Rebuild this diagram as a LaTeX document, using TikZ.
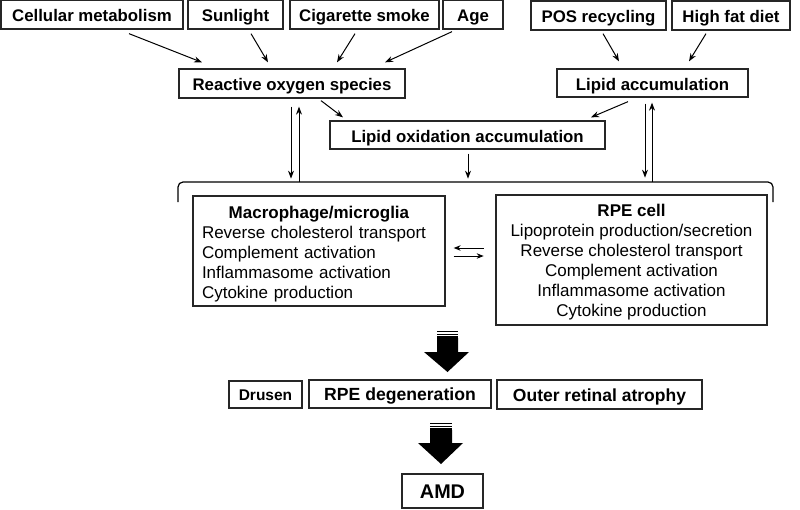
\documentclass[tikz,border=0pt]{standalone}
\usepackage{fontspec}
\setmainfont{Liberation Sans}
\usetikzlibrary{arrows.meta}
\begin{document}
\begin{tikzpicture}[x=1pt,y=-1pt,
  box/.style={draw=black!85, line width=1.3pt, inner sep=0pt, anchor=center},
  onel/.style={box, text height=#1, text depth=0pt},
  onel/.default=14pt,
  tb/.style={onel=14pt, font=\fontsize{16.8}{20}\selectfont\bfseries},
  arr/.style={-{Stealth[length=8pt,width=6pt]}, line width=1pt},
  eqarr/.style={-{Stealth[length=7pt,width=5.5pt]}, line width=1pt},
  bigarrow/.style={fill=black},
]
\useasboundingbox (0,0) rectangle (800,509);
% top boxes
\node[tb, minimum width=182pt, minimum height=29pt] (cm) at (92,14.5) {Cellular metabolism};
\node[tb, minimum width=95pt, minimum height=29pt] (sun) at (235.5,14.5) {Sunlight};
\node[tb, minimum width=149pt, minimum height=29pt] (cig) at (364.5,14.5) {Cigarette smoke};
\node[tb, minimum width=60pt, minimum height=29pt] (age) at (473,14.5) {Age};
\node[tb, minimum width=135pt, minimum height=29pt] (pos) at (598.5,15.5) {POS recycling};
\node[tb, minimum width=118pt, minimum height=29pt] (hfd) at (731,15.5) {High fat diet};
% second row
\node[tb, minimum width=226pt, minimum height=29pt] (ros) at (292,83.5) {Reactive oxygen species};
\node[tb, minimum width=191pt, minimum height=28pt] (la) at (652.5,83) {Lipid accumulation};
\node[tb, minimum width=275pt, minimum height=28pt] (lo) at (467.5,135) {Lipid oxidation accumulation};
% cell boxes
\node[box, minimum width=252pt, minimum height=110pt, text width=234pt, align=left,
      font=\fontsize{17}{20}\selectfont] (mac) at (319,251)
  {\rule{0pt}{18.5pt}\makebox[234pt][c]{\textbf{Macrophage/microglia}}\\Reverse cholesterol transport\\Complement activation\\Inflammasome activation\\Cytokine production};
\node[box, minimum width=271pt, minimum height=130pt, align=center,
      font=\fontsize{17}{20}\selectfont] (rpe) at (631.5,260)
  {\rule{0pt}{16.5pt}\textbf{RPE cell}\\Lipoprotein production/secretion\\Reverse cholesterol transport\\Complement activation\\Inflammasome activation\\Cytokine production};
% outcome boxes
\node[onel=12.5pt, minimum width=73pt, minimum height=27pt, font=\fontsize{15.5}{18}\selectfont\bfseries] (dru) at (265.5,394.5) {Drusen};
\node[onel=13.6pt, minimum width=182pt, minimum height=28pt, font=\fontsize{17.6}{20}\selectfont\bfseries] (deg) at (400,394) {RPE degeneration};
\node[onel=13.6pt, minimum width=205pt, minimum height=29pt, font=\fontsize{17.5}{20}\selectfont\bfseries] (ora) at (599.5,394.5) {Outer retinal atrophy};
\node[onel=15.2pt, minimum width=81pt, minimum height=34pt, font=\fontsize{19.8}{22}\selectfont\bfseries] (amd) at (442.5,491) {AMD};
% arrows into ROS
\draw[arr] ([shift={(37,4)}]cm.south) -- ([shift={(-90,-6)}]ros.north);
\draw[arr] ([shift={(15.5,4)}]sun.south) -- ([shift={(-24,-6)}]ros.north);
\draw[arr] ([shift={(-9.5,4)}]cig.south) -- ([shift={(45,-6)}]ros.north);
\draw[arr] ([shift={(-21,2)}]age.south) -- ([shift={(93,-6)}]ros.north);
% arrows into lipid accumulation
\draw[arr] ([shift={(4.5,3)}]pos.south) -- ([shift={(-33.5,-7)}]la.north);
\draw[arr] ([shift={(-25,3)}]hfd.south) -- ([shift={(36.5,-7)}]la.north);
% into lipid oxidation
\draw[arr] ([shift={(29,2)}]ros.south) -- ([shift={(-124.5,-3)}]lo.north);
\draw[arr] ([shift={(-24.5,4)}]la.south) -- ([shift={(123.5,-3)}]lo.north);
% bracket
\draw[line width=1.2pt, rounded corners=5pt] (178,202) |- (773,182) -- (773,202);
\coordinate (bkL) at (299,182);
\coordinate (bkR) at (652,182);
% vertical pairs
\draw[arr] ([shift={(-1,8)}]ros.south) -- ([shift={(-1,80)}]ros.south);
\draw[arr] (bkL) -- ([shift={(7,8)}]ros.south);
\draw[arr] ([shift={(-7.5,6)}]la.south) -- ([shift={(-7.5,80)}]la.south);
\draw[arr] (bkR) -- ([shift={(-0.5,5)}]la.south);
\draw[arr] ([shift={(0.5,4)}]lo.south) -- ([shift={(0.5,29)}]lo.south);
% equilibrium arrows
\draw[eqarr] ([shift={(38,-3)}]mac.east) -- ([shift={(8,-3)}]mac.east);
\draw[eqarr] ([shift={(8,5)}]mac.east) -- ([shift={(38,5)}]mac.east);
% big arrows
\fill[bigarrow] (437,338) -- (458,338) -- (458,352) -- (469,352) -- (447.5,372) -- (424,352) -- (437,352) -- cycle;
\fill[bigarrow] (437,331) rectangle (458,332.3);
\fill[bigarrow] (437,333.6) rectangle (458,334.9);
\fill[bigarrow] (437,336.2) rectangle (458,337.5);
\fill[bigarrow] (430,430) -- (452,430) -- (452,443) -- (463,443) -- (441,464) -- (418,443) -- (430,443) -- cycle;
\fill[bigarrow] (430,423) rectangle (452,424.3);
\fill[bigarrow] (430,425.6) rectangle (452,426.9);
\fill[bigarrow] (430,428.2) rectangle (452,429.5);
\end{tikzpicture}
\end{document}
